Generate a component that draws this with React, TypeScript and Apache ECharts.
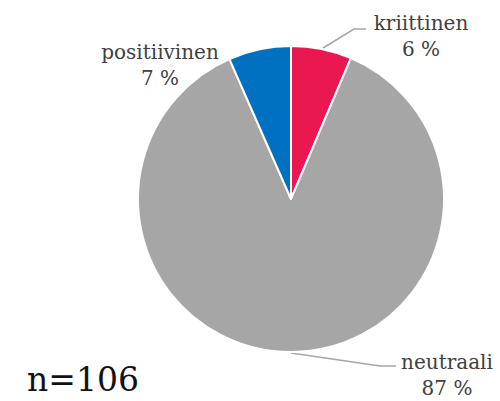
import React, { useEffect, useRef } from "react";
import * as echarts from "echarts";

const categories = ["kriittinen", "neutraali", "positiivinen"];
const values = [6.4, 87.0, 6.6];
const colors = ["#EB1750", "#A6A6A6", "#0070C0"];
const totalLabel = "n=106";

export default function App() {
  const ref = useRef<HTMLDivElement>(null);
  useEffect(() => {
    document.body.style.margin = "0";
    const chart = echarts.init(ref.current!, null, { renderer: "svg" });
    const labelPos: Record<number, any> = {
      0: { x: 421, y: 36, line: [[323, 48], [354, 29], [366, 29]] },
      1: { x: 447, y: 375, line: [[291, 353], [380, 366], [396, 366]] },
      2: { x: 160, y: 65, line: null },
    };
    chart.setOption({
      animation: false,
      backgroundColor: "#ffffff",
      graphic: [
        {
          type: "text",
          left: 27,
          top: 363,
          style: {
            text: totalLabel,
            font: '33px "DejaVu Serif"',
            lineHeight: 33,
            fill: "#111111",
          },
        },
      ],
      series: [
        {
          type: "pie",
          center: [291, 199],
          radius: 153,
          startAngle: 90,
          clockwise: true,
          itemStyle: { borderColor: "#ffffff", borderWidth: 2 },
          label: {
            show: true,
            position: "outside",
            formatter: (p: any) => `${p.name}\n${Math.round(p.value)} %`,
            fontFamily: "DejaVu Serif",
            fontSize: 20,
            lineHeight: 26,
            color: "#404040",
            align: "center",
          },
          labelLine: { show: true, lineStyle: { color: "#A6A6A6", width: 1.5 } },
          labelLayout: (params: any) => {
            const p = labelPos[params.dataIndex];
            const r: any = { x: p.x, y: p.y, align: "center", verticalAlign: "middle" };
            if (p.line) r.labelLinePoints = p.line;
            return r;
          },
          data: categories.map((c, i) => ({
            name: c,
            value: values[i],
            itemStyle: { color: colors[i] },
            labelLine: { show: i !== 2 },
          })),
        },
      ],
    });
    return () => chart.dispose();
  }, []);
  return <div ref={ref} style={{ width: 500, height: 401, position: "absolute", left: 0, top: 0 }} />;
}
